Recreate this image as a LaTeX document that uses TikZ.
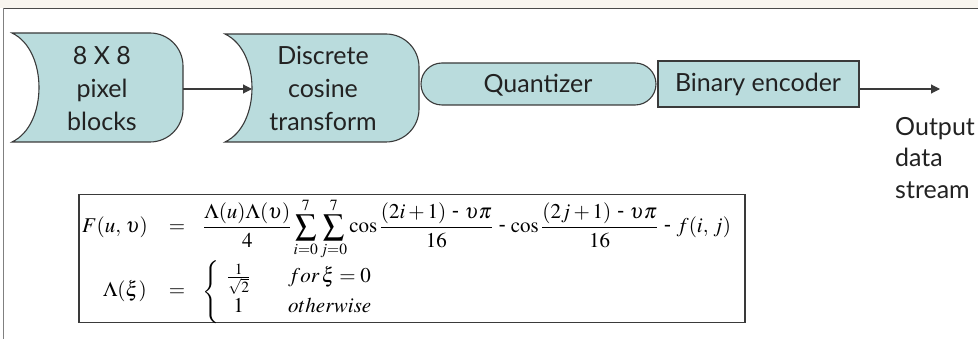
\documentclass[tikz,border=0pt]{standalone}
\usepackage{amsmath}
\usepackage{mathptmx}
\usepackage[no-math]{fontspec}
\setmainfont{Lato}
\usetikzlibrary{arrows.meta}
\definecolor{boxfill}{HTML}{BADCDD}
\definecolor{edge}{HTML}{3A3A3A}
\definecolor{band}{HTML}{F8F5EF}
\definecolor{frameline}{HTML}{4A4A4A}
\definecolor{txt}{HTML}{222222}
\begin{document}
\begin{tikzpicture}[x=1pt,y=-1pt,
  lbl/.style={font=\fontsize{25}{33}\selectfont, text=txt, inner sep=0pt, align=center},
  stage/.style={fill=boxfill, draw=edge, line width=1.1pt},
  conn/.style={draw=edge, line width=1.1pt, -{Triangle[length=9pt,width=9pt]}},
  mth/.style={inner sep=0pt, font=\fontsize{21}{25}\selectfont}]
\useasboundingbox (0,0) rectangle (978,339);
% page frame
\fill[band] (0,0) rectangle (978,8);
\draw[frameline, line width=1.6pt] (3,8.5) -- (978,8.5);
\draw[frameline!70, line width=1.2pt] (3.5,8.5) -- (3.5,339);
% stage 1
\path[stage] (12,33) -- (150,33) .. controls (168.2,33) and (183,47.8) .. (183,66)
  -- (183,109) .. controls (183,127.2) and (168.2,142) .. (150,142)
  -- (12,142) .. controls (48,125) and (48,50) .. (12,33) -- cycle;
% stage 2
\path[stage] (225,34) -- (386,34) .. controls (404.2,34) and (419,48.8) .. (419,67)
  -- (419,109) .. controls (419,127.2) and (404.2,142) .. (386,142)
  -- (225,142) .. controls (261,125) and (261,51) .. (225,34) -- cycle;
% quantizer
\path[stage, rounded corners=21pt] (421,63) rectangle (656,105);
% binary encoder
\path[stage] (658,61) rectangle (859,107);
% labels
\node[lbl] (pix) at (102,89) {8 X 8\\pixel\\blocks};
\node[lbl] (dct) at (323,88) {Discrete\\cosine\\transform};
\node[lbl, anchor=base] (quant) at (538,93) {Quantizer};
\node[lbl, anchor=base] (bin) at (758,92) {Binary encoder};
\node[lbl, align=left, anchor=north west, font=\fontsize{25}{31.5}\selectfont] (out) at (895,117) {Output\\data\\stream};
% connectors
\coordinate (s1east) at (183,89);
\coordinate (s2west) at (252,89);
\coordinate (binEast) at (859,89);
\coordinate (outEnd) at (940,89);
\draw[conn] (s1east) -- (s2west);
\draw[conn] (binEast) -- (outEnd);
% formula box
\node[draw=edge, line width=1.1pt, minimum width=666pt, minimum height=128pt, inner sep=0pt] (fbox) at (412,258.5) {};
% row 1
\node[mth, anchor=base east] (fLhs) at (148,233) {$F(u,\,\upsilon)$};
\node[mth, anchor=base] (fEq) at (177,233) {$=$};
\node[mth, anchor=base west] (fRhs) at (203,233) {$\displaystyle
\frac{\Lambda(u)\Lambda(\upsilon)}{4}\sum_{i=0}^{7}\sum_{j=0}^{7}\cos\frac{(2i+1)\ \mbox{-}\ \upsilon\pi}{16}\ \mbox{-}\,\cos\frac{(2j+1)\ \mbox{-}\ \upsilon\pi}{16}\ \mbox{-}\ f(i,\,j)$};
% row 2
\node[mth, anchor=base east] (gLhs) at (147,297) {$\Lambda(\xi)$};
\node[mth, anchor=base] (gEq) at (177,297) {$=$};
\node[mth, anchor=base west] (gRhs) at (202,297) {$\left\{\begin{array}{@{\hspace{8pt}}c@{\hspace{38pt}}l}\frac{1}{\sqrt{2}} & for\,\xi=0\\[2pt] 1 & otherwise\end{array}\right.$};
\end{tikzpicture}
\end{document}
